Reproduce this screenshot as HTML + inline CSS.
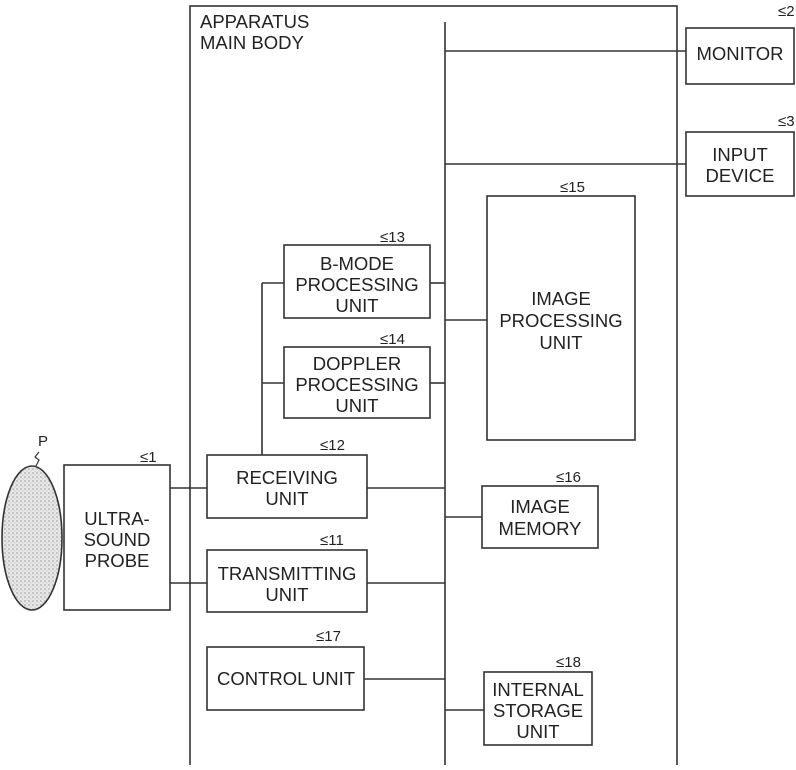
<!DOCTYPE html>
<html><head><style>
body{margin:0;background:#fff}
text{font-family:"Liberation Sans",sans-serif;font-size:18.5px;fill:#222}
.s{font-size:15px}
</style></head><body>
<svg width="796" height="765" viewBox="0 0 796 765" xmlns="http://www.w3.org/2000/svg">
<defs><pattern id="dots" width="4" height="4" patternUnits="userSpaceOnUse"><rect width="4" height="4" fill="#e8e8e8"/><circle cx="1" cy="1" r="0.8" fill="#999"/><circle cx="3" cy="3" r="0.6" fill="#bbb"/></pattern></defs>
<g fill="none" stroke="#333" stroke-width="1.6">
<rect x="190" y="6" width="487" height="770"/>
<line x1="445" y1="22" x2="445" y2="765"/>
<rect x="686" y="28" width="108" height="56"/>
<rect x="686" y="132" width="108" height="64"/>
<line x1="445" y1="51" x2="686" y2="51"/>
<line x1="445" y1="164" x2="686" y2="164"/>
<rect x="487" y="196" width="148" height="244"/>
<line x1="445" y1="320" x2="487" y2="320"/>
<rect x="284" y="245" width="146" height="73"/>
<rect x="284" y="347" width="146" height="71"/>
<line x1="430" y1="283" x2="445" y2="283"/>
<line x1="430" y1="383" x2="445" y2="383"/>
<line x1="262" y1="283" x2="284" y2="283"/>
<line x1="262" y1="383" x2="284" y2="383"/>
<line x1="262" y1="283" x2="262" y2="455"/>
<rect x="207" y="455" width="160" height="63"/>
<rect x="207" y="550" width="160" height="62"/>
<rect x="207" y="647" width="157" height="63"/>
<line x1="367" y1="488" x2="445" y2="488"/>
<line x1="367" y1="583" x2="445" y2="583"/>
<line x1="364" y1="679" x2="445" y2="679"/>
<rect x="64" y="465" width="106" height="145"/>
<line x1="170" y1="488" x2="207" y2="488"/>
<line x1="170" y1="583" x2="207" y2="583"/>
<rect x="482" y="486" width="116" height="62"/>
<line x1="445" y1="517" x2="482" y2="517"/>
<rect x="484" y="672" width="108" height="73"/>
<line x1="445" y1="710" x2="484" y2="710"/>
<ellipse cx="32" cy="538" rx="30" ry="72" fill="url(#dots)"/>
<path d="M36 466 l3 -6 l-4 -3 l4 -5" stroke-width="1.2"/>
</g>
<text x="200" y="28">APPARATUS</text>
<text x="200" y="49">MAIN BODY</text>
<text x="740" y="60" text-anchor="middle">MONITOR</text>
<text x="740" y="161" text-anchor="middle">INPUT</text>
<text x="740" y="182" text-anchor="middle">DEVICE</text>
<text x="561" y="305" text-anchor="middle">IMAGE</text>
<text x="561" y="327" text-anchor="middle">PROCESSING</text>
<text x="561" y="349" text-anchor="middle">UNIT</text>
<text x="357" y="270" text-anchor="middle">B-MODE</text>
<text x="357" y="291" text-anchor="middle">PROCESSING</text>
<text x="357" y="312" text-anchor="middle">UNIT</text>
<text x="357" y="370" text-anchor="middle">DOPPLER</text>
<text x="357" y="391" text-anchor="middle">PROCESSING</text>
<text x="357" y="412" text-anchor="middle">UNIT</text>
<text x="287" y="484" text-anchor="middle">RECEIVING</text>
<text x="287" y="505" text-anchor="middle">UNIT</text>
<text x="287" y="580" text-anchor="middle">TRANSMITTING</text>
<text x="287" y="601" text-anchor="middle">UNIT</text>
<text x="286" y="685" text-anchor="middle">CONTROL UNIT</text>
<text x="117" y="525" text-anchor="middle">ULTRA-</text>
<text x="117" y="546" text-anchor="middle">SOUND</text>
<text x="117" y="567" text-anchor="middle">PROBE</text>
<text x="540" y="513" text-anchor="middle">IMAGE</text>
<text x="540" y="535" text-anchor="middle">MEMORY</text>
<text x="538" y="696" text-anchor="middle">INTERNAL</text>
<text x="538" y="717" text-anchor="middle">STORAGE</text>
<text x="538" y="738" text-anchor="middle">UNIT</text>
<text class="s" x="38" y="446">P</text>
<text class="s" x="778" y="16">≤2</text>
<text class="s" x="778" y="126">≤3</text>
<text class="s" x="560" y="192">≤15</text>
<text class="s" x="380" y="242">≤13</text>
<text class="s" x="380" y="344">≤14</text>
<text class="s" x="320" y="450">≤12</text>
<text class="s" x="320" y="545">≤11</text>
<text class="s" x="316" y="641">≤17</text>
<text class="s" x="140" y="462">≤1</text>
<text class="s" x="556" y="482">≤16</text>
<text class="s" x="556" y="667">≤18</text>
</svg>
</body></html>
